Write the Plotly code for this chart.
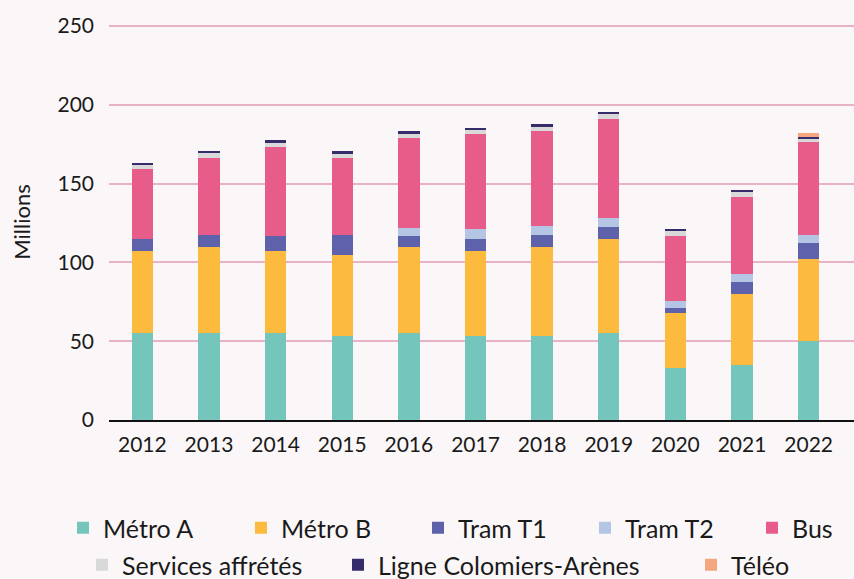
import plotly.graph_objects as go

years = ["2012", "2013", "2014", "2015", "2016", "2017", "2018", "2019", "2020", "2021", "2022"]
metro_a = [55, 55, 55, 53, 55, 53, 53, 55, 33, 35, 50]
metro_b = [52, 55, 52, 52, 55, 54.5, 57, 60, 35, 45, 52]
tram_t1 = [8, 7.5, 10, 12.5, 7, 7.6, 7.6, 7.7, 3.2, 7.7, 10.1]
tram_t2 = [0, 0, 0, 0, 5, 6.4, 5.7, 5.7, 4.4, 5, 5.1]
bus = [44, 49, 56.5, 49, 57, 60.3, 60.3, 62.8, 41.3, 48.9, 59]
services = [3, 3, 2.5, 2.6, 2.6, 2.5, 2.5, 3.2, 3.1, 3.2, 2.5]
ligne = [1.2, 1.3, 1.9, 1.9, 1.9, 1.3, 1.9, 1.2, 1.3, 1.2, 0.7]
teleo = [0, 0, 0, 0, 0, 0, 0, 0, 0, 0, 2.5]

names = ["Métro A", "Métro B", "Tram T1", "Tram T2", "Bus",
         "Services affrétés", "Ligne Colomiers-Arènes", "Téléo"]
values = [metro_a, metro_b, tram_t1, tram_t2, bus, services, ligne, teleo]
colors = ["#74c5bb", "#fcba3f", "#5d62ab", "#b5c6e4", "#e85c8a", "#d9d9d9", "#372c6b", "#f4a77f"]

# legend entry placement (pixels in the 854x579 canvas): left x, centre y
W, H = 854, 579
legend_pos = [(63, 528), (241, 528), (418, 528), (585, 528), (752, 528),
              (82, 565), (338, 565), (691, 565)]

bg = "#fbf7f8"
font = "Lato, sans-serif"

fig = go.Figure()
layout_legends = {}
for i, (name, vals, col) in enumerate(zip(names, values, colors)):
    key = "legend" if i == 0 else f"legend{i + 1}"
    fig.add_trace(go.Bar(x=years, y=vals, name=name, legend=key, showlegend=True,
                         marker=dict(color=col, line=dict(width=0))))
    px, py = legend_pos[i]
    layout_legends[key] = dict(orientation="h", xref="container", yref="container",
                               x=px / W, y=1 - py / H, xanchor="left", yanchor="middle",
                               bgcolor="rgba(0,0,0,0)", visible=True,
                               font=dict(size=25, color="#1a1a1a"))

fig.update_layout(
    barmode="stack",
    bargap=0.68,
    showlegend=True,
    width=W, height=H,
    paper_bgcolor=bg, plot_bgcolor=bg,
    margin=dict(l=109, r=0, t=24, b=159, autoexpand=False),
    font=dict(family=font, size=21, color="#1a1a1a"),
    xaxis=dict(range=[-0.5, 10.68], showline=True, linecolor="#111111", linewidth=1.5,
               showgrid=False, ticks="", ticklabelstandoff=5, tickfont=dict(size=21)),
    yaxis=dict(range=[0, 251.3], tickvals=[0, 50, 100, 150, 200, 250], showgrid=True,
               gridcolor="#eab2c6", gridwidth=1.5, zeroline=False, ticks="",
               ticklabelstandoff=14, tickfont=dict(size=21),
               title=dict(text="Millions", font=dict(size=22), standoff=20)),
    **layout_legends,
)
fig.add_hline(y=150, line=dict(color="#e4e4e4", width=1.5), layer="below")
fig.add_hline(y=250, line=dict(color="#f2c9d6", width=1.5), layer="below")
fig.write_html("out.html", config={"displayModeBar": False},
               post_script="document.body.style.margin='0px';")
